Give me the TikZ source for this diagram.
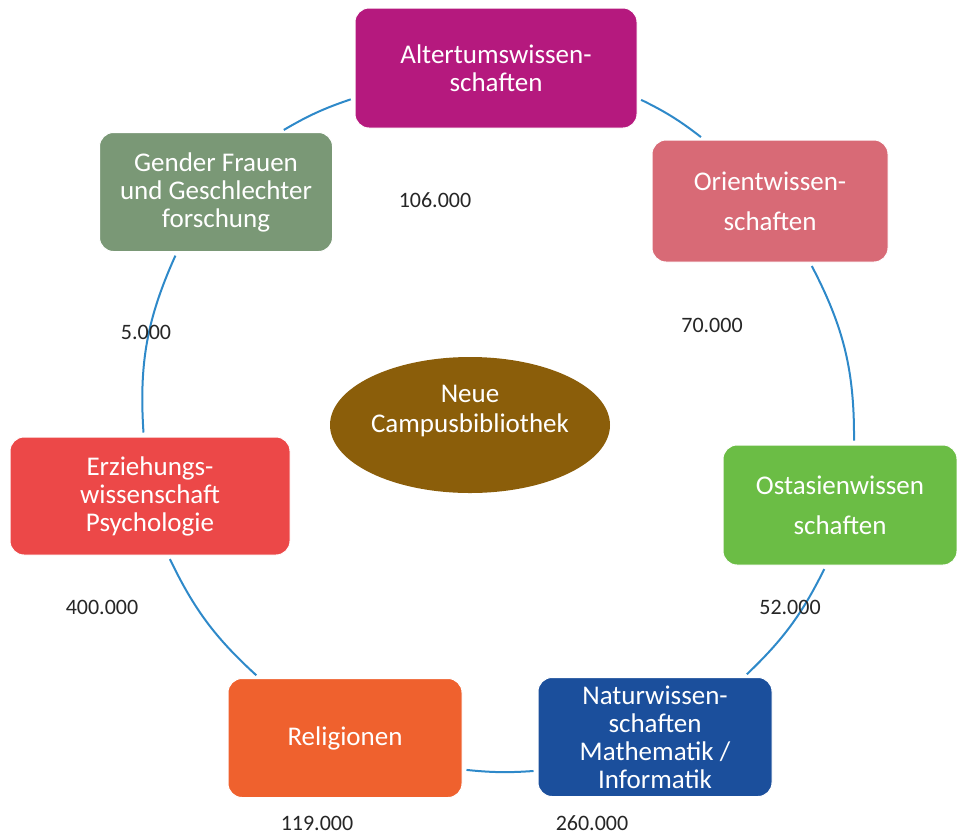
\documentclass[tikz,border=0pt]{standalone}
\usepackage{fontspec}
\setmainfont{Carlito}
\usepackage{xcolor}
\usetikzlibrary{shapes.geometric}

\definecolor{altcol}{RGB}{181,25,126}
\definecolor{oricol}{RGB}{216,106,118}
\definecolor{ostcol}{RGB}{107,189,69}
\definecolor{natcol}{RGB}{27,79,156}
\definecolor{relcol}{RGB}{239,97,46}
\definecolor{erzcol}{RGB}{236,72,72}
\definecolor{gencol}{RGB}{122,152,118}
\definecolor{hubcol}{RGB}{139,94,10}
\definecolor{ringcol}{RGB}{46,137,201}

\begin{document}
\begin{tikzpicture}[x=1pt, y=-1pt,
    box/.style={draw=white, line width=1pt, rounded corners=14pt, fill=#1, text=white, align=center, inner sep=0pt, font=\fontsize{27}{28}\selectfont},
    ring/.style={draw=ringcol, line width=2pt, shorten <=4pt, shorten >=4pt},
    hubtext/.style={text=white, align=center, yshift=14pt, font=\fontsize{27}{30}\selectfont},
    num/.style={text=black!85, font=\fontsize{22}{24}\selectfont}]

    \useasboundingbox (0,0) rectangle (957,836);

    % Draw rectangles
    \node (alt) [box=altcol, minimum width=282pt, minimum height=120pt] at (496,68) {Altertumswissen-\\schaften};
    \node (ori) [box=oricol, minimum width=236pt, minimum height=122pt, font=\fontsize{27}{40}\selectfont] at (770,201) {Orientwissen-\\schaften};
    \node (ost) [box=ostcol, minimum width=234pt, minimum height=120pt, font=\fontsize{27}{40}\selectfont] at (840,505) {Ostasienwissen\\schaften};
    \node (nat) [box=natcol, minimum width=234pt, minimum height=119pt] at (655,737) {Naturwissen-\\schaften\\Mathematik /\\Informatik};
    \node (rel) [box=relcol, minimum width=234pt, minimum height=119pt] at (345,738) {Religionen};
    \node (erz) [box=erzcol, minimum width=280pt, minimum height=118pt] at (150,496) {Erziehungs-\\wissenschaft\\Psychologie};
    \node (gen) [box=gencol, minimum width=233pt, minimum height=119pt] at (216,192) {Gender Frauen\\und Geschlechter\\forschung};

    % Draw ellipse
    \node (hub) [ellipse, fill=hubcol, inner sep=0pt, minimum width=280pt, minimum height=136pt,
        label={[hubtext]center:{Neue\\Campusbibliothek}}] at (470,425) {};

    % Draw ring
    \draw[ring] (alt.-12) to[bend left=6] (ori.137);
    \draw[ring] (ori.-57) to[bend left=14] (ost.77);
    \draw[ring] (ost.-103) to[bend left=10] (nat.34);
    \draw[ring] (nat.196) to[bend left=5] (rel.-15);
    \draw[ring] (rel.145) to[bend left=11] (erz.-73);
    \draw[ring] (erz.96) to[bend left=14] (gen.237);
    \draw[ring] (gen.43) to[bend left=6] (alt.192);

    % Draw numbers
    \node (n106) [num] at (435,200) {106.000};
    \node (n70) [num] at (712,325) {70.000};
    \node (n52) [num] at (790,607) {52.000};
    \node (n260) [num] at (592,823) {260.000};
    \node (n119) [num] at (317,823) {119.000};
    \node (n400) [num] at (102,607) {400.000};
    \node (n5) [num] at (146,332) {5.000};

\end{tikzpicture}
\end{document}
